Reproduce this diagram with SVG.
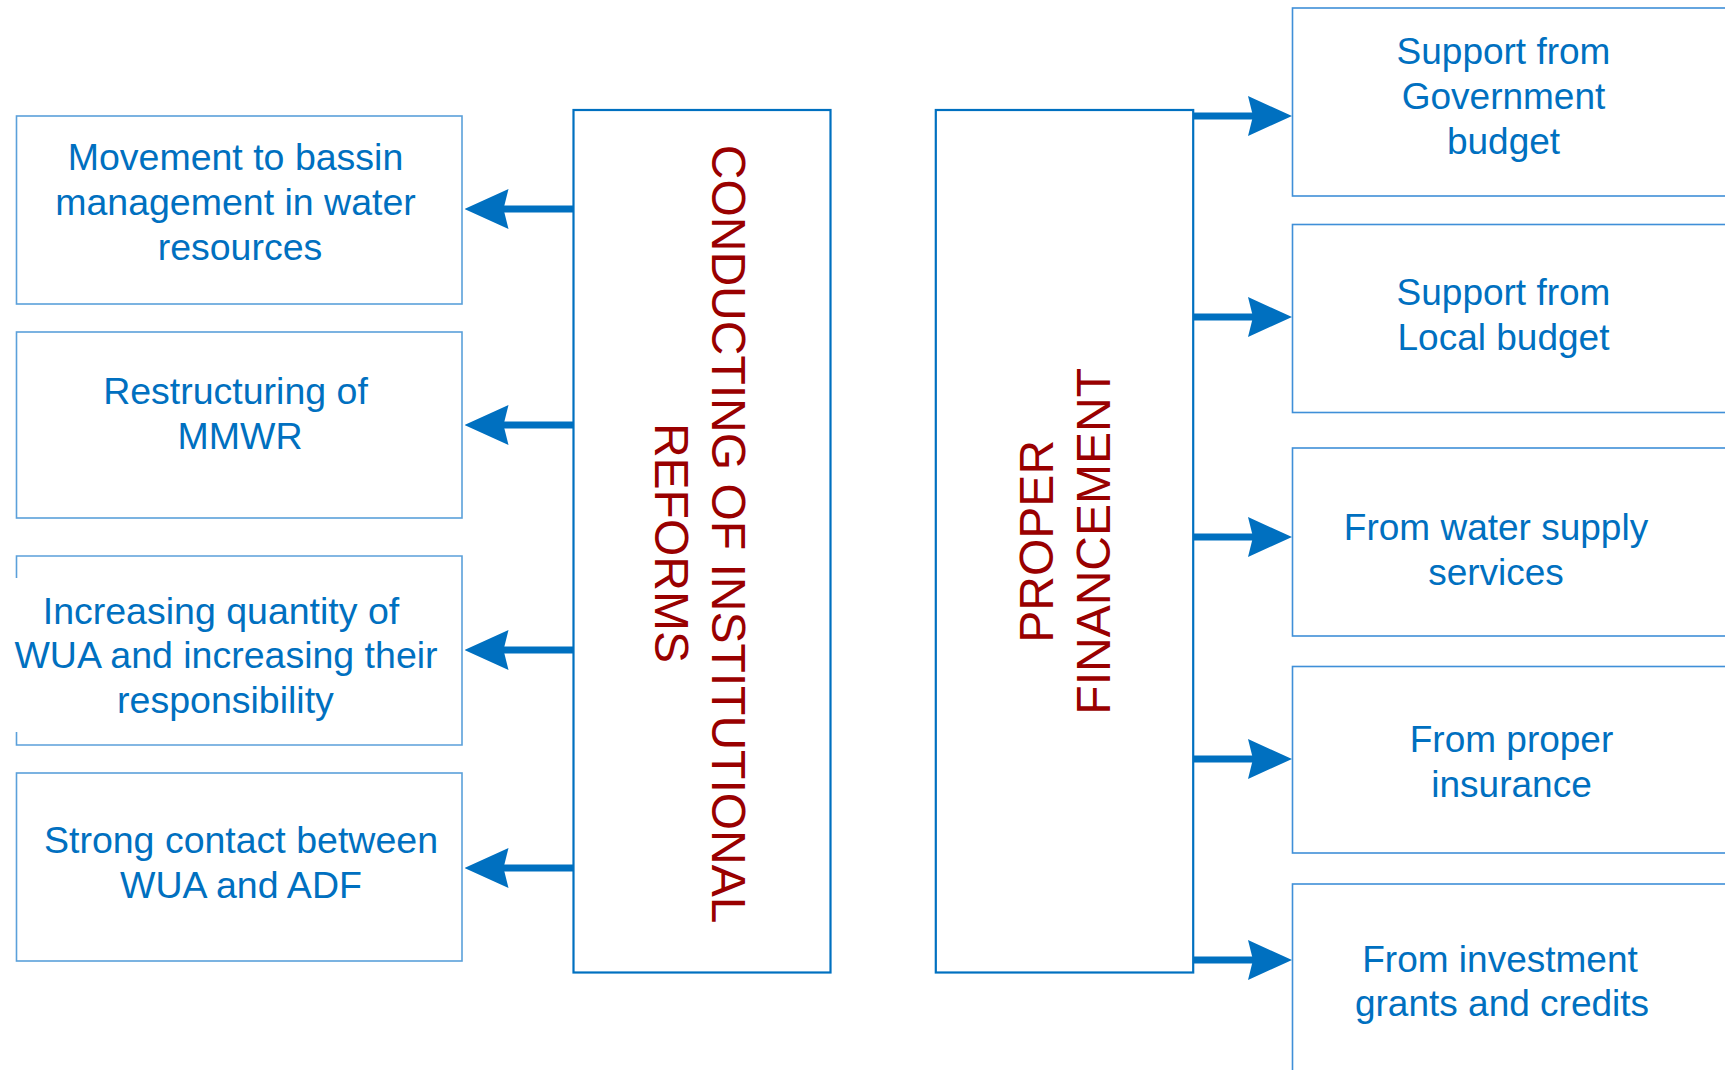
<svg xmlns="http://www.w3.org/2000/svg" width="1725" height="1070" viewBox="0 0 1725 1070">
<style>
.lbox{fill:#ffffff;stroke:#5BA0DA;stroke-width:1.6}
.rbox{fill:#ffffff;stroke:#3F8FD8;stroke-width:1.6}
.cbox{fill:#ffffff;stroke:#0070C0;stroke-width:2.2}
.t{font-family:"Liberation Sans",Arial,sans-serif;font-size:37px;fill:#0070C0;text-anchor:middle}
.lt{font-size:37.5px}
.ct{font-family:"Liberation Sans",Arial,sans-serif;font-size:48px;fill:#990000;text-anchor:middle}
.conn line{stroke:#0070C0;stroke-width:7;marker-end:url(#ah)}
</style>
<defs>
<marker id="ah" viewBox="0 0 44 40" refX="6" refY="20" markerWidth="44" markerHeight="40" markerUnits="userSpaceOnUse" orient="auto">
<path d="M0,0 L44,20 L0,40 L5,20 Z" fill="#0070C0"/>
</marker>
</defs>
<rect width="1725" height="1070" fill="#ffffff"/>

<g id="reforms">
<rect class="cbox" x="573.5" y="110" width="257" height="862.5"/>
<g transform="translate(711.5,534.1) rotate(90)">
<text class="ct" x="0" y="0">CONDUCTING OF INSTITUTIONAL</text>
<text class="ct" x="8.8" y="56.8">REFORMS</text>
</g>
</g>

<g id="financement">
<rect class="cbox" x="935.8" y="110" width="257.4" height="862.5"/>
<g transform="translate(1053.3,541.3) rotate(-90)">
<text class="ct" x="0" y="0">PROPER</text>
<text class="ct" x="0" y="57.2">FINANCEMENT</text>
</g>
</g>

<g id="box-bassin">
<rect class="lbox" x="16.5" y="116" width="445.5" height="188"/>
<text class="t lt" x="235.5" y="170">Movement to bassin</text>
<text class="t lt" x="235.5" y="214.5">management in water</text>
<text class="t lt" x="240" y="259.5">resources</text>
</g>

<g id="box-mmwr">
<rect class="lbox" x="16.5" y="332" width="445.5" height="186"/>
<text class="t lt" x="235.5" y="403.5">Restructuring of</text>
<text class="t lt" x="240" y="448.5">MMWR</text>
</g>

<g id="box-wua">
<path class="lbox" fill="none" d="M16.5,578 V556 H462 V745 H16.5 V732"/>
<text class="t lt" x="221" y="623.5">Increasing quantity of</text>
<text class="t lt" x="226" y="668">WUA and increasing their</text>
<text class="t lt" x="225.5" y="713">responsibility</text>
</g>

<g id="box-adf">
<rect class="lbox" x="16.5" y="773" width="445.5" height="188"/>
<text class="t lt" x="241" y="852.5">Strong contact between</text>
<text class="t lt" x="241" y="897.5">WUA and ADF</text>
</g>

<g id="box-gov">
<rect class="rbox" x="1292.5" y="8" width="500" height="188"/>
<text class="t" x="1503.5" y="64">Support from</text>
<text class="t" x="1503.5" y="108.5">Government</text>
<text class="t" x="1503.5" y="153.5">budget</text>
</g>

<g id="box-local">
<rect class="rbox" x="1292.5" y="224.5" width="500" height="188"/>
<text class="t" x="1503.5" y="305">Support from</text>
<text class="t" x="1503.5" y="350">Local budget</text>
</g>

<g id="box-water">
<rect class="rbox" x="1292.5" y="448" width="500" height="188"/>
<text class="t" x="1496" y="539.5">From water supply</text>
<text class="t" x="1496" y="584.5">services</text>
</g>

<g id="box-insurance">
<rect class="rbox" x="1292.5" y="666.5" width="500" height="186.5"/>
<text class="t" x="1511.5" y="751.5">From proper</text>
<text class="t" x="1511.5" y="796.5">insurance</text>
</g>

<g id="box-investment">
<rect class="rbox" x="1292.5" y="884" width="500" height="220"/>
<text class="t" x="1500" y="972">From investment</text>
<text class="t" x="1502" y="1016">grants and credits</text>
</g>

<g id="connectors" class="conn">
<line x1="573.5" y1="209" x2="502.5" y2="209"/>
<line x1="573.5" y1="425" x2="502.5" y2="425"/>
<line x1="573.5" y1="650" x2="502.5" y2="650"/>
<line x1="573.5" y1="868" x2="502.5" y2="868"/>
<line x1="1193" y1="116" x2="1254" y2="116"/>
<line x1="1193" y1="317" x2="1254" y2="317"/>
<line x1="1193" y1="537" x2="1254" y2="537"/>
<line x1="1193" y1="759" x2="1254" y2="759"/>
<line x1="1193" y1="960" x2="1254" y2="960"/>
</g>
</svg>
